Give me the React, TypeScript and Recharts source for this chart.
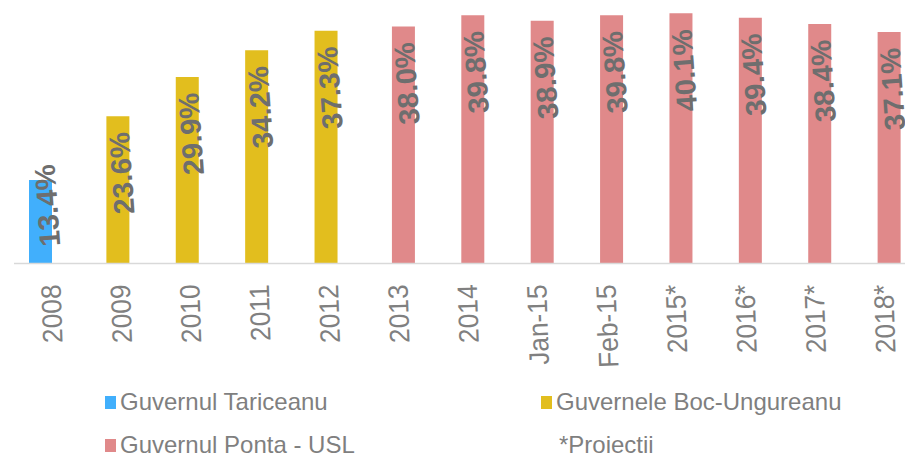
import React from 'react';
import { BarChart, Bar, XAxis, YAxis, LabelList, Legend } from 'recharts';

const categories = ['2008', '2009', '2010', '2011', '2012', '2013', '2014', 'Jan-15', 'Feb-15', '2015*', '2016*', '2017*', '2018*'];
const tariceanu: (number | null)[] = [13.4, null, null, null, null, null, null, null, null, null, null, null, null];
const bocUngureanu: (number | null)[] = [null, 23.6, 29.9, 34.2, 37.3, null, null, null, null, null, null, null, null];
const pontaUsl: (number | null)[] = [null, null, null, null, null, 38.0, 39.8, 38.9, 39.8, 40.1, 39.4, 38.4, 37.1];
const seriesNames = ['Guvernul Tariceanu', 'Guvernele Boc-Ungureanu', 'Guvernul Ponta - USL'];
const noteText = '*Proiectii';

const COLORS = ['#41AFFC', '#E2BE1E', '#E0898A'];

const data = categories.map((c, i) => ({
  name: c,
  tariceanu: tariceanu[i],
  boc: bocUngureanu[i],
  ponta: pontaUsl[i],
}));

const LABEL_LEN = 83;

const makeLabel = (dxTop: number) => (props: any) => {
  const vb = props.viewBox || {};
  const x = props.x ?? vb.x;
  const y = props.y ?? vb.y;
  const width = props.width ?? vb.width;
  const height = props.height ?? vb.height;
  const value = props.value;
  if (value === null || value === undefined || !height) return null;
  const cx = x + width / 2 + dxTop;
  const top = Math.min(y + 16, y + height - 16 - LABEL_LEN);
  return (
    <text
      x={0}
      y={0}
      transform={`translate(${cx}, ${top}) rotate(-94)`}
      textAnchor="end"
      dominantBaseline="central"
      fontFamily="Liberation Sans, Arial, sans-serif"
      fontSize={29}
      fontWeight="bold"
      fill="#6e6e6e"
    >
      {`${Number(value).toFixed(1)}%`}
    </text>
  );
};

const renderTick = (props: any) => {
  const { x, y, payload } = props;
  return (
    <text
      x={0}
      y={0}
      transform={`translate(${x + 2}, ${y + 13}) rotate(-92) scale(0.94, 1)`}
      textAnchor="end"
      dominantBaseline="central"
      fontFamily="Liberation Sans, Arial, sans-serif"
      fontSize={28}
      fill="#808080"
    >
      {payload.value}
    </text>
  );
};

const legendItem = (left: number, top: number, color: string | null, label: string) => (
  <div key={label} style={{ position: 'absolute', left, top, height: 26, display: 'flex', alignItems: 'center' }}>
    {color ? <span style={{ display: 'inline-block', width: 11, height: 13, background: color, marginRight: 4 }} /> : null}
    <span style={{ fontFamily: 'Liberation Sans, Arial, sans-serif', fontSize: 24, color: '#7f7f7f', whiteSpace: 'nowrap' }}>{label}</span>
  </div>
);

const renderLegend = () => (
  <div style={{ position: 'relative', width: 905, height: 80 }}>
    {legendItem(105, 10, COLORS[0], seriesNames[0])}
    {legendItem(541, 10, COLORS[1], seriesNames[1])}
    {legendItem(105, 53, COLORS[2], seriesNames[2])}
    {legendItem(559, 53, null, noteText)}
  </div>
);

export default function App() {
  return (
    <div style={{ position: 'absolute', left: 0, top: 0, width: 905, height: 459, overflow: 'hidden', background: '#fff' }}>
      <BarChart
        width={916}
        height={459}
        data={data}
        margin={{ top: 1.5, right: 0, left: 14, bottom: 0 }}
        barGap={-15}
      >
        <XAxis
          dataKey="name"
          interval={0}
          tickLine={false}
          axisLine={{ stroke: '#d9d9d9', strokeWidth: 1.5 }}
          tick={renderTick}
          height={115.5}
        />
        <YAxis hide domain={[0, 42]} />
        <Legend
          verticalAlign="bottom"
          content={renderLegend}
          wrapperStyle={{ left: 0, top: 379, width: 905, height: 80 }}
        />
        <Bar dataKey="tariceanu" fill={COLORS[0]} barSize={23} isAnimationActive={false}>
          <LabelList dataKey="tariceanu" content={makeLabel(4)} />
        </Bar>
        <Bar dataKey="boc" fill={COLORS[1]} barSize={23} isAnimationActive={false}>
          <LabelList dataKey="boc" content={makeLabel(1)} />
        </Bar>
        <Bar dataKey="ponta" fill={COLORS[2]} barSize={23} isAnimationActive={false}>
          <LabelList dataKey="ponta" content={makeLabel(0.5)} />
        </Bar>
      </BarChart>
    </div>
  );
}
